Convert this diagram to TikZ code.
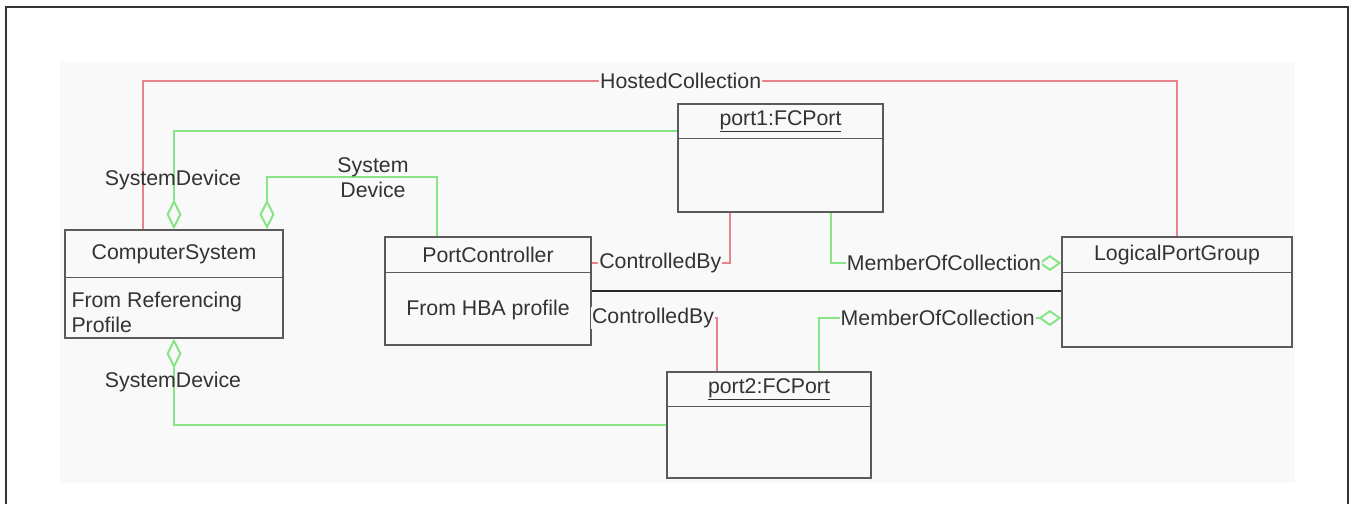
\documentclass[tikz,border=0pt]{standalone}
\usepackage{fontspec}
\setmainfont{Liberation Sans}
\usetikzlibrary{arrows.meta}
\definecolor{assocred}{RGB}{232,130,140}
\definecolor{aggrgreen}{RGB}{135,228,135}
\definecolor{boxgray}{RGB}{90,90,90}
\definecolor{paper}{RGB}{249,249,249}
\begin{document}
\begin{tikzpicture} [x=1pt,y=-1pt,
  every node/.style={font=\fontsize{21.3}{25}\selectfont, text=black!80},
  classbox/.style={draw=boxgray, line width=1.3pt, inner sep=0pt},
  divider/.style={draw=boxgray, line width=1.3pt},
  redline/.style={draw=assocred, line width=2pt},
  greenline/.style={draw=aggrgreen, line width=2pt},
  aggr/.style={greenline, {Diamond[open, length=30pt, width=15pt]}-},
  member/.style={greenline, -{Diamond[open, length=23pt, width=16pt]}},
  lbl/.style={fill=paper, inner sep=1pt}]
\useasboundingbox (0,0) rectangle (1352,504);
\fill[paper] (60,62) rectangle (1295,483);
\draw[black!80, line width=2pt] (6,504) -- (6,7) -- (1348,7) -- (1348,504);

\node[classbox, minimum width=218pt, minimum height=108pt] (cs) at (174,284) {};
\node[classbox, minimum width=206pt, minimum height=108pt] (pc) at (488,291) {};
\node[classbox, minimum width=205pt, minimum height=108pt] (p1) at (780.5,158) {};
\node[classbox, minimum width=230pt, minimum height=110pt] (lpg) at (1177,292) {};
\node[classbox, minimum width=204pt, minimum height=106pt] (p2) at (769,425) {};

\draw[divider] ([yshift=-48pt]cs.north west) -- ([yshift=-48pt]cs.north east);
\draw[divider] ([yshift=-36pt]pc.north west) -- ([yshift=-36pt]pc.north east);
\draw[divider] ([yshift=-35pt]p1.north west) -- ([yshift=-35pt]p1.north east);
\draw[divider] ([yshift=-36pt]lpg.north west) -- ([yshift=-36pt]lpg.north east);
\draw[divider] ([yshift=-35pt]p2.north west) -- ([yshift=-35pt]p2.north east);

\node (cstitle) at (174,254) {ComputerSystem};
\node[align=left, anchor=west] (csbody) at (68,312) {From Referencing\\Profile};
\node (pctitle) at (488,255) {PortController};
\node (pcbody) at (488,310) {From HBA profile};
\node (p1title) at (780.5,121.5) {\underline{port1:FCPort}};
\node (lpgtitle) at (1177,255) {LogicalPortGroup};
\node (p2title) at (769,389.5) {\underline{port2:FCPort}};

\draw[redline] ([xshift=-31pt]cs.north) -- ++(0,-148) -| node[lbl, pos=0.26] {HostedCollection} (lpg.north);

\draw[aggr] (cs.north) |- ([yshift=27pt]p1.west);
\node (sd1) at (173,180) {SystemDevice};
\draw[aggr] ([xshift=93pt]cs.north) -- ++(0,-52) -| ([xshift=-51pt]pc.north);
\node[align=center] (sd2) at (373,178) {System\\Device};
\draw[aggr] (cs.south) |- (p2.west);
\node (sd3) at (173,382) {SystemDevice};

\draw[redline] ([xshift=-50.5pt]p1.south) |- node[lbl, pos=0.752] {ControlledBy} ([yshift=28pt]pc.east);
\draw[member] ([xshift=50.5pt]p1.south) |- node[lbl, pos=0.745] {MemberOfCollection} ([yshift=29pt]lpg.west);
\draw[redline] ([xshift=-52pt]p2.north) |- node[lbl, pos=0.755] {ControlledBy} ([yshift=-27pt]pc.east);
\draw[member] ([xshift=50pt]p2.north) |- node[lbl, pos=0.745] {MemberOfCollection} ([yshift=-26pt]lpg.west);
\draw[black!85, line width=1.8pt] (pc.east) -- (pc.east -| lpg.west);
\end{tikzpicture}
\end{document}
